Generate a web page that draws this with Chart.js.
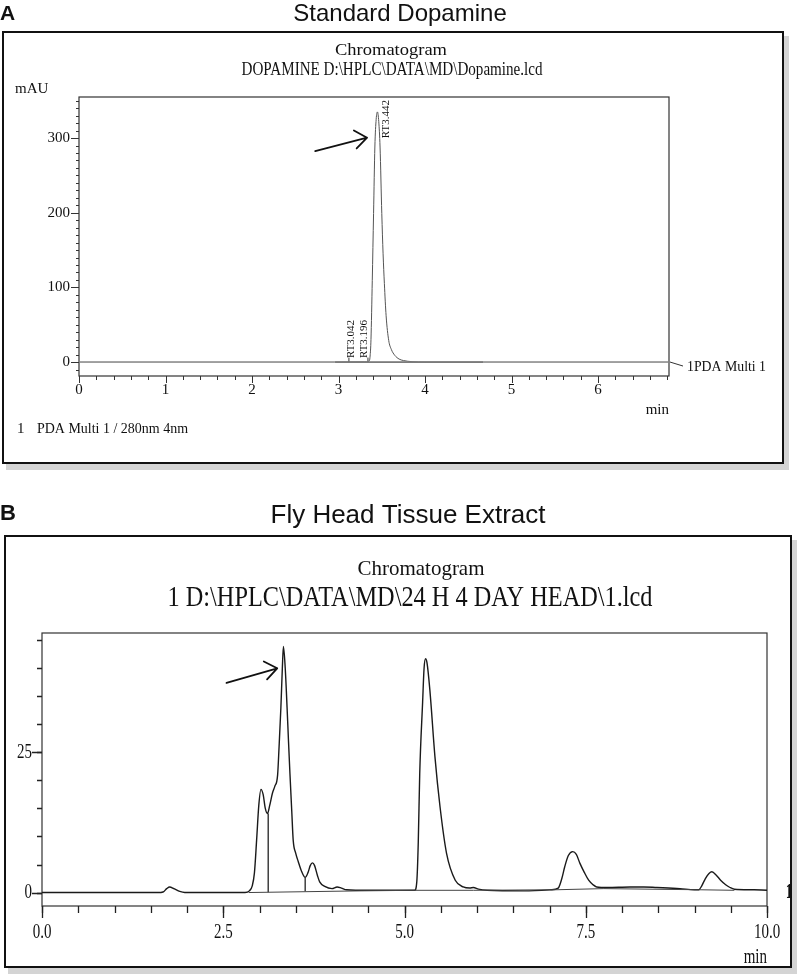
<!DOCTYPE html>
<html>
<head>
<meta charset="utf-8">
<script src="https://cdn.jsdelivr.net/npm/chart.js@4.4.0/dist/chart.umd.min.js"></script>
<style>
  body { margin: 0; background: #fff; width: 800px; height: 976px; position: relative; overflow: hidden; }
  canvas { position: absolute; left: 0; }
</style>
</head>
<body>
<canvas id="chartA" width="800" height="470" style="top:0"></canvas>
<canvas id="chartB" width="800" height="506" style="top:470px"></canvas>
<script>
// ---- Panel A : standard dopamine (time in min, signal in mAU) ----
const aTime   = [0, 2.95, 3.30, 3.35, 3.365, 3.375, 3.39, 3.405, 3.42, 3.435, 3.45, 3.465, 3.48, 3.50, 3.515, 3.53, 3.55, 3.58, 3.61, 3.65, 3.70, 3.75, 3.85, 4.0, 6.82];
const aSignal = [0, 0, 0.3, 1, 8, 30, 109, 199, 288, 325, 335, 322, 288, 199, 145, 105, 62, 29, 17, 9, 4, 2, 0.5, 0, 0];
const aBaseTime = [0, 6.82];
const aBaseVal  = [0, 0];
const aSegTime  = [2.96, 4.67];
const aSegVal   = [0, 0];
const aMarkTime = [3.12, 3.34];
const aMarkVal  = [6, 6];
const aPeakRT    = [3.042, 3.196, 3.442];
const aPeakH     = [0, 0, 335];
const aPeakNames = ['RT3.042', 'RT3.196', 'RT3.442'];
const aTicksX = [0, 1, 2, 3, 4, 5, 6];
const aTicksY = [0, 100, 200, 300];

// ---- Panel B : fly head tissue extract ----
const bTime = [0, 1.60, 1.67, 1.72, 1.76, 1.82, 1.90, 1.97, 2.80, 2.86, 2.90, 2.93, 2.96, 2.99, 3.02, 3.05, 3.08, 3.11, 3.14, 3.18, 3.21,
  3.25, 3.27, 3.295, 3.315, 3.33, 3.355, 3.38, 3.40, 3.42, 3.445, 3.465, 3.50, 3.535, 3.58, 3.63, 3.67, 3.70, 3.73, 3.76, 3.80, 3.83,
  3.90, 4.00, 4.07, 4.13, 4.20, 4.50, 5.00, 5.14, 5.17, 5.19, 5.21, 5.25, 5.27, 5.29, 5.31, 5.35, 5.42, 5.49, 5.58, 5.70, 5.81, 5.90,
  5.95, 6.02, 6.14, 6.65, 7.02, 7.12, 7.17, 7.21, 7.26, 7.32, 7.37, 7.42, 7.48, 7.54, 7.60, 7.65, 7.80, 8.11, 8.30, 8.48, 8.80, 9.00,
  9.06, 9.10, 9.15, 9.20, 9.24, 9.30, 9.36, 9.43, 9.49, 9.55, 9.80, 10.0, 10.1, 10.21];
const bSignal = [0, 0, 0.1, 0.7, 1.0, 0.7, 0.2, 0, 0, 0.3, 1.2, 3.5, 9.3, 15.5, 18.4, 17.5, 15.0, 14.1, 15.5, 17.8, 18.9,
  21, 26, 33, 40, 43.9, 40, 33.1, 27, 21.2, 14.5, 9.3, 7.0, 5.5, 3.8, 2.7, 3.6, 4.8, 5.3, 4.8, 3.0, 1.9,
  1.1, 0.7, 1.0, 0.8, 0.5, 0.4, 0.4, 0.4, 2, 9, 21.2, 34, 40, 41.7, 41, 36.1, 24.2, 15.3, 7.0, 2.2, 1.0, 0.8,
  0.9, 0.6, 0.4, 0.3, 0.5, 0.8, 2.5, 4.6, 6.6, 7.3, 6.8, 5.2, 3.6, 2.2, 1.4, 1.0, 0.9, 1.0, 1.0, 0.9, 0.7, 0.5,
  0.5, 1.2, 2.5, 3.4, 3.7, 3.1, 2.2, 1.4, 0.9, 0.6, 0.5, 0.4, 0.2, -0.2];
const bBaseTime = [2.85, 4.4, 5.15, 5.95, 7.1, 7.75, 9.05, 9.55];
const bBaseVal  = [0, 0.3, 0.4, 0.4, 0.5, 0.7, 0.5, 0.4];
const bDropTime = [3.12, 3.63];
const bDropTop  = [14.1, 2.6];
const bDropBase = [0.05, 0.25];
const bTicksX = [0, 2.5, 5, 7.5, 10];
const bTickLabelsX = ['0.0', '2.5', '5.0', '7.5', '10.0'];
const bTicksY = [0, 25];

// annotation arrows, in axis units
const arrowA = { from: [2.73, 282.6], to: [3.33, 300.5] };
const arrowB = { from: [2.545, 37.4], to: [3.244, 40.0] };

const SERIF = '"Liberation Serif", "Times New Roman", serif';
const SANS = '"Liberation Sans", Arial, sans-serif';

function pts(xs, ys) {
    return xs.map((x, i) => ({ x: x, y: ys[i] }));
}

function lineDs(xs, ys, color, width, extra) {
    return Object.assign({
        data: pts(xs, ys),
        borderColor: color,
        borderWidth: width,
        pointRadius: 0,
        fill: false,
        tension: 0
    }, extra || {});
}

function drawText(ctx, s, x, y, o) {
    ctx.save();
    ctx.font = o.font;
    ctx.textAlign = o.align || 'left';
    ctx.textBaseline = o.base || 'alphabetic';
    let sx = o.sx || 1;
    if (o.width) sx = o.width / ctx.measureText(s).width;
    ctx.translate(x, y);
    if (o.rot) ctx.rotate(o.rot);
    ctx.scale(sx, 1);
    ctx.fillStyle = o.color || '#111';
    ctx.fillText(s, 0, 0);
    ctx.restore();
}

function drawBox(ctx, x, y, w, h) {
    ctx.save();
    ctx.fillStyle = '#d4d4d4';
    ctx.fillRect(x + 3, y + 4, w + 3, h + 3);
    ctx.fillStyle = '#fff';
    ctx.fillRect(x, y, w, h);
    ctx.strokeStyle = '#111';
    ctx.lineWidth = 2;
    ctx.strokeRect(x, y, w, h);
    ctx.restore();
}

function drawFrame(chart) {
    const ctx = chart.ctx, a = chart.chartArea;
    ctx.save();
    ctx.strokeStyle = '#333';
    ctx.lineWidth = 1.2;
    ctx.strokeRect(a.left, a.top, a.right - a.left, a.bottom - a.top);
    ctx.restore();
}

function ticksY(chart, values, len) {
    const ctx = chart.ctx, ys = chart.scales.y, left = chart.chartArea.left;
    ctx.beginPath();
    values.forEach(v => {
        const py = Math.round(ys.getPixelForValue(v)) + 0.5;
        ctx.moveTo(left - len, py);
        ctx.lineTo(left, py);
    });
    ctx.stroke();
}

function ticksX(chart, values, len) {
    const ctx = chart.ctx, xs = chart.scales.x, bottom = chart.chartArea.bottom;
    ctx.beginPath();
    values.forEach(v => {
        const px = Math.round(xs.getPixelForValue(v)) + 0.5;
        ctx.moveTo(px, bottom);
        ctx.lineTo(px, bottom + len);
    });
    ctx.stroke();
}

function drawArrow(chart, arr) {
    const ctx = chart.ctx, xs = chart.scales.x, ys = chart.scales.y;
    const x1 = xs.getPixelForValue(arr.from[0]), y1 = ys.getPixelForValue(arr.from[1]);
    const x2 = xs.getPixelForValue(arr.to[0]), y2 = ys.getPixelForValue(arr.to[1]);
    const ang = Math.atan2(y2 - y1, x2 - x1);
    ctx.save();
    ctx.strokeStyle = '#111';
    ctx.lineWidth = 1.8;
    ctx.lineCap = 'round';
    ctx.beginPath();
    ctx.moveTo(x1, y1);
    ctx.lineTo(x2, y2);
    [-0.55, 0.75].forEach(d => {
        ctx.moveTo(x2, y2);
        ctx.lineTo(x2 - 15 * Math.cos(ang + d), y2 - 15 * Math.sin(ang + d));
    });
    ctx.stroke();
    ctx.restore();
}

function steps(from, to, step) {
    const out = [];
    for (let i = 0; from + i * step <= to + 1e-9; i++) out.push(from + i * step);
    return out;
}

// =========================
// PANEL A
// =========================
const panelA = {
    id: 'panelA',
    beforeDraw(chart) {
        drawBox(chart.ctx, 3, 32, 780, 431);
        drawFrame(chart);
    },
    afterDraw(chart) {
        const ctx = chart.ctx, a = chart.chartArea, xs = chart.scales.x, ys = chart.scales.y;
        const f15 = '15px ' + SERIF;

        drawText(ctx, 'A', 0, 20, { font: 'bold 21px ' + SANS });
        drawText(ctx, 'Standard Dopamine', 400, 21, { font: '24px ' + SANS, align: 'center' });
        drawText(ctx, 'Chromatogram', 391, 55, { font: '17px ' + SERIF, align: 'center', width: 112 });
        drawText(ctx, 'DOPAMINE D:\\HPLC\\DATA\\MD\\Dopamine.lcd', 392, 75, { font: '19px ' + SERIF, align: 'center', width: 301 });
        drawText(ctx, 'mAU', 15, 93, { font: f15 });

        ctx.save();
        ctx.strokeStyle = '#333';
        ctx.lineWidth = 1;
        ticksY(chart, steps(-10, 350, 10), 3);
        ticksY(chart, aTicksY, 8);
        ticksX(chart, steps(0, 6.8, 0.2), 4);
        ticksX(chart, aTicksX, 7);
        // leader to the trace label
        const y0 = ys.getPixelForValue(0);
        ctx.beginPath();
        ctx.moveTo(a.right + 1, y0);
        ctx.lineTo(a.right + 14, y0 + 4);
        ctx.stroke();
        ctx.restore();

        aTicksY.forEach(v => drawText(ctx, String(v), a.left - 9, ys.getPixelForValue(v), { font: f15, align: 'right', base: 'middle' }));
        aTicksX.forEach(v => drawText(ctx, String(v), xs.getPixelForValue(v), a.bottom + 7, { font: f15, align: 'center', base: 'top' }));
        drawText(ctx, 'min', a.right, 414, { font: f15, align: 'right' });
        drawText(ctx, '1PDA Multi 1', a.right + 18, y0 + 5, { font: f15, align: 'left', base: 'middle', width: 79 });
        drawText(ctx, '1', 17, 433, { font: f15 });
        drawText(ctx, 'PDA Multi 1 / 280nm 4nm', 37, 433, { font: f15, width: 151 });

        // peak retention time labels, vertical, kept inside the frame
        ctx.save();
        ctx.font = '11px ' + SERIF;
        aPeakNames.forEach((name, i) => {
            const w = ctx.measureText(name).width;
            const px = xs.getPixelForValue(aPeakRT[i]) + 9;
            let start = ys.getPixelForValue(aPeakH[i]) - 4;
            if (start - w < a.top + 3) start = a.top + 3 + w;
            drawText(ctx, name, px, start, { font: '11px ' + SERIF, base: 'middle', rot: -Math.PI / 2 });
        });
        ctx.restore();

        drawArrow(chart, arrowA);
    }
};

new Chart(document.getElementById('chartA'), {
    type: 'line',
    data: {
        datasets: [
            lineDs(aBaseTime, aBaseVal, '#9a9a9a', 1),
            lineDs(aTime, aSignal, '#555', 1, { cubicInterpolationMode: 'monotone' }),
            lineDs(aSegTime, aSegVal, '#222', 1.3)
        ].concat(aMarkTime.map((t, i) => lineDs([t, t], [0, aMarkVal[i]], '#333', 1)))
    },
    options: {
        responsive: false,
        animation: false,
        events: [],
        layout: { padding: { left: 79, top: 97, right: 131, bottom: 94 } },
        plugins: { legend: { display: false }, tooltip: { enabled: false } },
        scales: {
            x: { type: 'linear', display: false, min: 0, max: 6.82 },
            y: { display: false, min: -18.7, max: 355 }
        }
    },
    plugins: [panelA]
});

// =========================
// PANEL B
// =========================
const panelB = {
    id: 'panelB',
    beforeDraw(chart) {
        drawBox(chart.ctx, 5, 66, 786, 431);
        drawFrame(chart);
    },
    afterDraw(chart) {
        const ctx = chart.ctx, a = chart.chartArea, xs = chart.scales.x, ys = chart.scales.y;
        const fTick = '20px ' + SERIF;

        drawText(ctx, 'B', 0, 50, { font: 'bold 22px ' + SANS });
        drawText(ctx, 'Fly Head Tissue Extract', 408, 53, { font: '26px ' + SANS, align: 'center' });
        drawText(ctx, 'Chromatogram', 421, 105, { font: '22px ' + SERIF, align: 'center', width: 127 });
        drawText(ctx, '1 D:\\HPLC\\DATA\\MD\\24 H 4 DAY HEAD\\1.lcd', 410, 136, { font: '29px ' + SERIF, align: 'center', width: 485 });

        ctx.save();
        ctx.strokeStyle = '#222';
        ctx.lineWidth = 1.3;
        ticksY(chart, steps(0, 45, 5), 5);
        ticksY(chart, bTicksY, 10);
        ticksX(chart, steps(0, 10, 0.5), 7);
        ticksX(chart, bTicksX, 12);
        ctx.restore();

        bTicksY.forEach(v => drawText(ctx, String(v), a.left - 10, ys.getPixelForValue(v), { font: fTick, align: 'right', base: 'middle', sx: 0.75 }));
        bTicksX.forEach((v, i) => drawText(ctx, bTickLabelsX[i], xs.getPixelForValue(v), a.bottom + 32, { font: fTick, align: 'center', sx: 0.75 }));
        drawText(ctx, 'min', a.right, 493, { font: fTick, align: 'right', sx: 0.75 });
        drawText(ctx, '1', 786, ys.getPixelForValue(0), { font: 'bold 20px ' + SERIF, base: 'middle', sx: 0.6 });

        drawArrow(chart, arrowB);
    }
};

new Chart(document.getElementById('chartB'), {
    type: 'line',
    data: {
        datasets: [
            lineDs(bBaseTime, bBaseVal, '#444', 1),
            lineDs(bTime, bSignal, '#1a1a1a', 1.4, { cubicInterpolationMode: 'monotone', clip: false })
        ].concat(bDropTime.map((t, i) => lineDs([t, t], [bDropBase[i], bDropTop[i]], '#222', 1.3)))
    },
    options: {
        responsive: false,
        animation: false,
        events: [],
        layout: { padding: { left: 42, top: 163, right: 33, bottom: 70 } },
        plugins: { legend: { display: false }, tooltip: { enabled: false } },
        scales: {
            x: { type: 'linear', display: false, min: 0, max: 10 },
            y: { display: false, min: -2.4, max: 46.3 }
        }
    },
    plugins: [panelB]
});
</script>
</body>
</html>
